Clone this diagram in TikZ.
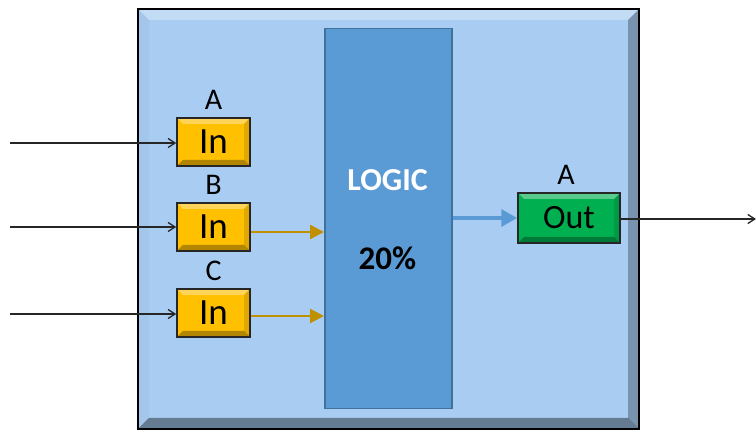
\documentclass[tikz,border=0pt]{standalone}
\usepackage{fontspec}
\setmainfont{Carlito}
\usetikzlibrary{arrows.meta}
\definecolor{outerblue}{HTML}{A9CDF2}
\definecolor{logicblue}{HTML}{5B9BD5}
\definecolor{logicedge}{HTML}{41719C}
\definecolor{inyellow}{HTML}{FFC000}
\definecolor{outgreen}{HTML}{00B050}
\definecolor{orangearrow}{HTML}{BF9000}
\tikzset{
  px/.style={x=1pt,y=-1pt},
  bevel/.style={path picture={\fill[white,opacity=0.35] (path picture bounding box.north west) -- (path picture bounding box.north east) -- ([xshift=-6pt,yshift=-6pt]path picture bounding box.north east) -- ([xshift=6pt,yshift=-6pt]path picture bounding box.north west) -- cycle;
      \fill[black,opacity=0.3] (path picture bounding box.south west) -- (path picture bounding box.south east) -- ([xshift=-6pt,yshift=6pt]path picture bounding box.south east) -- ([xshift=6pt,yshift=6pt]path picture bounding box.south west) -- cycle;
      \fill[black,opacity=0.12] (path picture bounding box.north east) -- (path picture bounding box.south east) -- ([xshift=-6pt,yshift=6pt]path picture bounding box.south east) -- ([xshift=-6pt,yshift=-6pt]path picture bounding box.north east) -- cycle;}},
  inbox/.style={draw=black!85,line width=1.5pt,fill=inyellow,minimum width=73pt,minimum height=48pt,inner sep=0pt,font=\fontsize{37}{40}\selectfont,bevel},
  outbox/.style={inbox,fill=outgreen,minimum width=102pt,minimum height=50pt,font=\fontsize{34}{38}\selectfont},
  lab/.style={font=\fontsize{30}{32}\selectfont,inner sep=0pt},
  inarrow/.style={draw=black!85,line width=1.3pt,-{Straight Barb[length=7pt,width=9pt]}},
  orarrow/.style={draw=orangearrow,line width=2.5pt,-{Triangle[length=14pt,width=14pt]}},
  blarrow/.style={draw=logicblue,line width=3.5pt,-{Triangle[length=16pt,width=17pt]}},
}
\begin{document}
\begin{tikzpicture}[px]
\useasboundingbox (0,0) rectangle (756,430);
% outer box
\node[draw=black,line width=2pt,fill=outerblue,minimum width=501pt,minimum height=420pt,inner sep=0pt,anchor=north west,
  path picture={
    \fill[white,opacity=0.3] (path picture bounding box.north west) -- (path picture bounding box.north east) -- ([xshift=-11pt,yshift=-11pt]path picture bounding box.north east) -- ([xshift=11pt,yshift=-11pt]path picture bounding box.north west) -- cycle;
    \fill[black,opacity=0.4] (path picture bounding box.south west) -- (path picture bounding box.south east) -- ([xshift=-11pt,yshift=11pt]path picture bounding box.south east) -- ([xshift=11pt,yshift=11pt]path picture bounding box.south west) -- cycle;
    \fill[black,opacity=0.28] (path picture bounding box.north east) -- (path picture bounding box.south east) -- ([xshift=-11pt,yshift=11pt]path picture bounding box.south east) -- ([xshift=-11pt,yshift=-11pt]path picture bounding box.north east) -- cycle;
    \fill[black,opacity=0.03] (path picture bounding box.north west) -- (path picture bounding box.south west) -- ([xshift=11pt,yshift=11pt]path picture bounding box.south west) -- ([xshift=11pt,yshift=-11pt]path picture bounding box.north west) -- cycle;
  }] (outer) at (137,8) {};
% logic box
\node[draw=logicedge,line width=1.5pt,fill=logicblue,minimum width=127pt,minimum height=380pt,inner sep=0pt,anchor=north west] (logic) at (324,28) {};
\node[font=\fontsize{32}{34}\selectfont\bfseries,text=white] (logictxt) at (387.5,180) {LOGIC};
\node[font=\fontsize{33}{35}\selectfont\bfseries] (pct) at (387.5,258) {20\%};
% inputs
\node[inbox] (ina) at (213.5,142) {In};
\node[inbox] (inb) at (213.5,227) {In};
\node[inbox] (inc) at (213.5,313) {In};
\node[lab] (la) at (213.5,100) {A};
\node[lab] (lb) at (213.5,185) {B};
\node[lab] (lc) at (213.5,271) {C};
% output
\node[outbox] (outa) at (569,218) {Out};
\node[lab] (lo) at (566,175) {A};
% free ends
\coordinate (sa) at (10,143);
\coordinate (sb) at (10,227);
\coordinate (sc) at (10,314);
\coordinate (eo) at (756,219);
\coordinate (tb) at (324,232);
\coordinate (tc) at (324,316);
\draw[inarrow] (sa) -- (sa -| ina.west);
\draw[inarrow] (sb) -- (sb -| inb.west);
\draw[inarrow] (sc) -- (sc -| inc.west);
\draw[orarrow] (tb -| inb.east) -- (tb);
\draw[orarrow] (tc -| inc.east) -- (tc);
\draw[blarrow] (logic.east |- 0,218) -- (outa.west |- 0,218);
\draw[inarrow] (outa.east |- eo) -- (eo);
\end{tikzpicture}
\end{document}
